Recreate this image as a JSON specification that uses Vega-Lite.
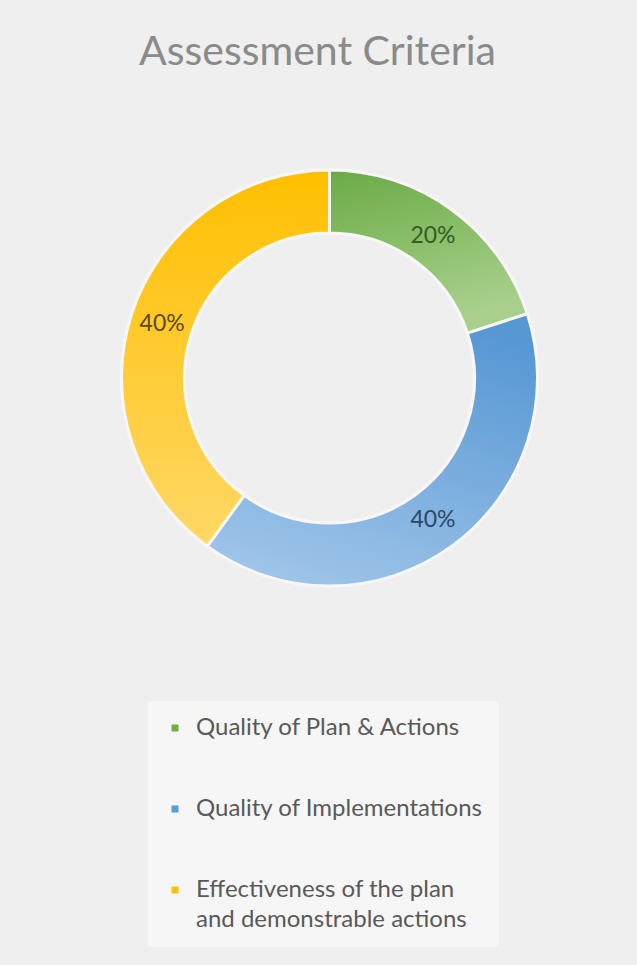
{
  "$schema": "https://vega.github.io/schema/vega-lite/v6.json",
  "width": 615,
  "height": 556,
  "autosize": "none",
  "padding": {"left": 22, "top": 100, "right": 0, "bottom": 309},
  "background": "#efefef",
  "config": {
    "view": {"stroke": null},
    "font": "Lato",
    "style": {"guide-label": {"lineHeight": 30}}
  },
  "title": {
    "text": "Assessment Criteria",
    "font": "Lato",
    "fontSize": 41,
    "fontWeight": "normal",
    "color": "#8a8a8a",
    "frame": "group",
    "anchor": "middle",
    "dx": -12,
    "offset": 26
  },
  "data": {
    "values": [
      {"category": "Quality of Plan & Actions", "share": 0.2},
      {"category": "Quality of Implementations", "share": 0.4},
      {"category": "Effectiveness of the plan and demonstrable actions", "share": 0.4}
    ]
  },
  "encoding": {
    "theta": {"field": "share", "type": "quantitative", "stack": true},
    "order": {"field": "category", "sort": "descending"}
  },
  "layer": [
    {
      "mark": {"type": "arc", "innerRadius": 145, "outerRadius": 208, "stroke": "#f7f7f7", "strokeWidth": 3},
      "encoding": {
        "color": {
          "field": "category",
          "type": "nominal",
          "scale": {
            "domain": ["Quality of Plan & Actions", "Quality of Implementations", "Effectiveness of the plan and demonstrable actions"],
            "range": ["#70ad47", "#5b9bd5", "#ffc000"]
          },
          "legend": {
            "orient": "none",
            "legendX": 126,
            "legendY": 601,
            "title": null,
            "symbolType": "square",
            "symbolSize": 49,
            "symbolStrokeWidth": 0,
            "labelFont": "Lato",
            "labelFontSize": 24,
            "labelColor": "#595959",
            "labelLimit": 400,
            "labelOffset": 9,
            "rowPadding": 57,
            "padding": 15,
            "fillColor": "#f6f6f6",
            "labelExpr": "datum.value === 'Effectiveness of the plan and demonstrable actions' ? ['Effectiveness of the plan', 'and demonstrable actions'] : datum.label"
          }
        }
      }
    },
    {
      "mark": {"type": "arc", "innerRadius": 145, "outerRadius": 208, "stroke": "#f7f7f7", "strokeWidth": 3},
      "encoding": {
        "fill": {
          "condition": [
            {"test": "datum.category === 'Quality of Plan & Actions'", "value": {"gradient": "linear", "x1": 0, "y1": 0, "x2": 0.3, "y2": 1, "stops": [{"offset": 0, "color": "#6aab45"}, {"offset": 1, "color": "#a8d08c"}]}},
            {"test": "datum.category === 'Quality of Implementations'", "value": {"gradient": "linear", "x1": 0.7, "y1": 0, "x2": 0.3, "y2": 1, "stops": [{"offset": 0, "color": "#5697d4"}, {"offset": 1, "color": "#9ec4e8"}]}}
          ],
          "value": {"gradient": "linear", "x1": 0.5, "y1": 0, "x2": 0.5, "y2": 1, "stops": [{"offset": 0, "color": "#ffbf00"}, {"offset": 1, "color": "#ffd866"}]}
        }
      }
    },
    {
      "mark": {"type": "text", "radius": 176, "fontSize": 23, "font": "Lato"},
      "encoding": {
        "text": {"field": "share", "type": "quantitative", "format": ".0%"},
        "color": {
          "condition": [
            {"test": "datum.category === 'Quality of Plan & Actions'", "value": "#375a25"},
            {"test": "datum.category === 'Quality of Implementations'", "value": "#2a4868"}
          ],
          "value": "#5e4a08"
        }
      }
    }
  ]
}
